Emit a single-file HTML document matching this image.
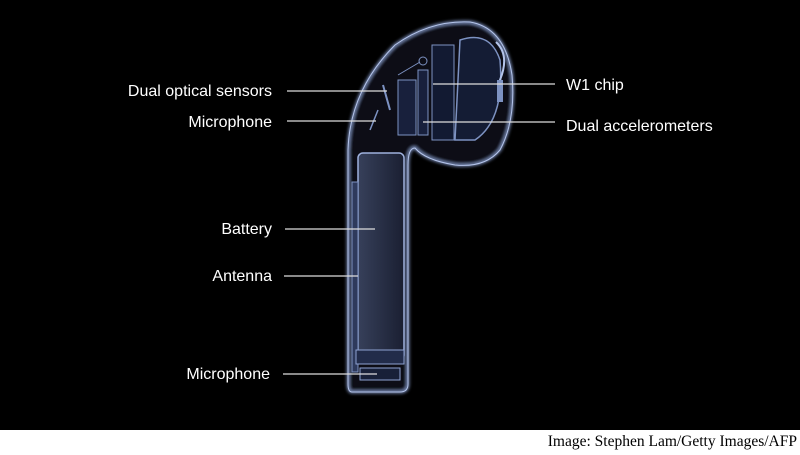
<!DOCTYPE html>
<html><head><style>
body{margin:0;width:800px;height:450px;overflow:hidden;background:#fff}
.t{font-family:"Liberation Sans",sans-serif;font-size:16px;fill:#fff}
</style></head><body>
<svg width="800" height="450" viewBox="0 0 800 450" xmlns="http://www.w3.org/2000/svg">
<defs>
<linearGradient id="g" x1="0" y1="0" x2="1" y2="0">
<stop offset="0" stop-color="#6a7fae" stop-opacity=".45"/>
<stop offset="1" stop-color="#2a3554" stop-opacity=".45"/>
</linearGradient>
<filter id="bl"><feGaussianBlur stdDeviation="1.5"/></filter>
</defs>
<rect width="800" height="430" fill="#000"/>
<path d="M352,392 Q348,392 348,384 L348,150 Q350,90 395,45 Q430,20 470,22 Q505,28 512,75 Q516,120 500,150 Q485,168 455,165 Q425,160 415,148 Q408,148 408,165 L408,384 Q408,392 400,392 Z" fill="#080c18" stroke="#8599c8" stroke-width="2.5" filter="url(#bl)"/>
<path d="M352,392 Q348,392 348,384 L348,150 Q350,90 395,45 Q430,20 470,22 Q505,28 512,75 Q516,120 500,150 Q485,168 455,165 Q425,160 415,148 Q408,148 408,165 L408,384 Q408,392 400,392 Z" fill="none" stroke="#b4c4ea" stroke-width="1"/>
<rect x="358" y="153" width="46" height="207" rx="5" fill="url(#g)" stroke="#9fb2de" stroke-width="1.5"/>
<rect x="352" y="182" width="6" height="190" fill="#2e3a5c" stroke="#7d92c2" stroke-width="1"/>
<rect x="356" y="350" width="48" height="14" fill="#222c4a" stroke="#8ea2d2"/>
<rect x="360" y="368" width="40" height="12" fill="#182038" stroke="#8ea2d2"/>
<path d="M460,40 Q490,30 500,60 Q505,120 475,140 L455,140 Z" fill="#141c34" stroke="#7d92c2" stroke-width="1.5"/>
<rect x="432" y="45" width="22" height="95" fill="#121a32" stroke="#7d92c2"/>
<rect x="398" y="80" width="18" height="55" fill="#18203c" stroke="#7d92c2"/>
<rect x="418" y="70" width="10" height="65" fill="#18203c" stroke="#7d92c2"/>
<line x1="398" y1="75" x2="420" y2="62" stroke="#7d92c2"/>
<circle cx="423" cy="61" r="4" fill="none" stroke="#7d92c2"/>
<path d="M496,42 Q510,55 500,80 L500,100" fill="none" stroke="#b4c4ea" stroke-width="2"/>
<rect x="497" y="80" width="6" height="22" fill="#7d92c2"/>
<line x1="383" y1="85" x2="390" y2="110" stroke="#7d92c2" stroke-width="2"/>
<line x1="370" y1="130" x2="378" y2="110" stroke="#7d92c2" stroke-width="1.5"/>
<g stroke="#ddd" stroke-width="1.3">
<line x1="287" y1="91" x2="387" y2="91"/>
<line x1="287" y1="121" x2="376" y2="121"/>
<line x1="433" y1="84" x2="555" y2="84"/>
<line x1="423" y1="122" x2="555" y2="122"/>
<line x1="285" y1="229" x2="375" y2="229"/>
<line x1="284" y1="276" x2="358" y2="276"/>
<line x1="283" y1="374" x2="377" y2="374"/>
</g>
<text class="t" x="272" y="96" text-anchor="end">Dual optical sensors</text>
<text class="t" x="272" y="127" text-anchor="end">Microphone</text>
<text class="t" x="272" y="234" text-anchor="end">Battery</text>
<text class="t" x="272" y="281" text-anchor="end">Antenna</text>
<text class="t" x="270" y="379" text-anchor="end">Microphone</text>
<text class="t" x="566" y="90">W1 chip</text>
<text class="t" x="566" y="131">Dual accelerometers</text>
<text x="797" y="446" text-anchor="end" font-family="Liberation Serif,serif" font-size="15.5" fill="#000">Image: Stephen Lam/Getty Images/AFP</text>
</svg>
</body></html>
